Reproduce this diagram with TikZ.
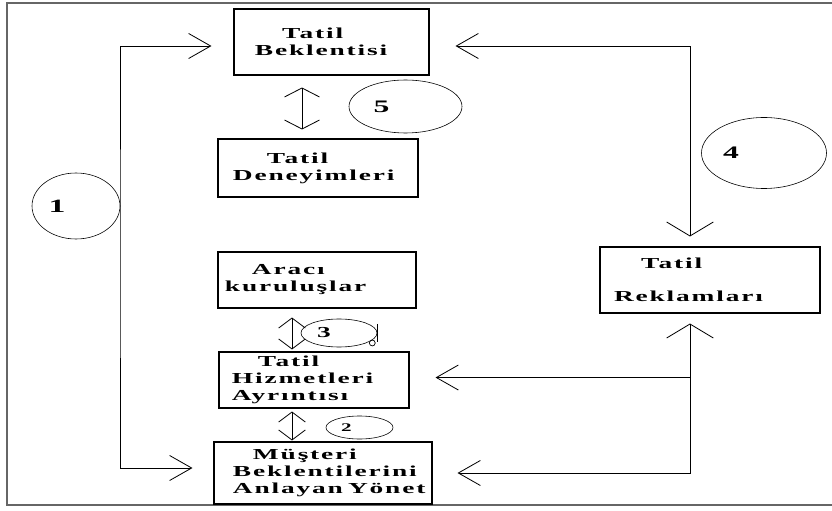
\documentclass[tikz,border=0pt]{standalone}
\usepackage{fontspec}
\newfontfamily\kutufont[FakeStretch=1.8,LetterSpace=12]{Liberation Serif}
\usetikzlibrary{arrows.meta,calc,shapes.geometric}
\tikzset{
  uzun/.tip={Straight Barb[length=0.66cm,width=0.75cm]},
  yassi/.tip={Straight Barb[length=0.42cm,width=1.4cm]},
  dik/.tip={Straight Barb[length=0.27cm,width=1.05cm]},
  kucuk/.tip={Straight Barb[length=0.3cm,width=0.8cm]},
  kutu/.style n args={3}{draw,line width=0.9pt,minimum height=#1,text width=#2,inner xsep=#3,
    inner ysep=0pt,align=left,font=\kutufont\bfseries\fontsize{13}{14.5}\selectfont},
  daire/.style={draw,ellipse,line width=0.5pt,inner sep=0pt,
    font=\kutufont\bfseries\fontsize{15}{15}\selectfont},
  hat/.style={line width=0.7pt},
}
\begin{document}
\begin{tikzpicture}[x=0.03cm,y=-0.03cm]
    \useasboundingbox (0,0) rectangle (832,511);
    \draw[black!60,line width=1pt] (832,3) -- (7,3) -- (7,505) -- (832,505);

    \node[kutu={1.98cm}{4.59cm}{0.63cm}] (bek) at (331.5,42)  {\hspace*{0.81cm}Tatil\\Beklentisi};
    \node[kutu={1.74cm}{5.1cm}{0.45cm}]  (den) at (318,168)   {\hspace*{1.02cm}Tatil\\Deneyimleri};
    \node[kutu={1.68cm}{5.52cm}{0.21cm}] (ara) at (317,280)   {\hspace*{0.81cm}Aracı\\kuruluşlar};
    \node[kutu={1.68cm}{4.92cm}{0.39cm}] (hiz) at (314,380)   {\hspace*{0.78cm}Tatil\\Hizmetleri\\Ayrıntısı};
    \node[kutu={1.86cm}{5.4cm}{0.57cm}]  (mus) at (323,473)   {\hspace*{0.6cm}Müşteri\\Beklentilerini\\Anlayan~Yönet};
    \node[kutu={1.98cm}{5.76cm}{0.42cm}] (rek) at (710,280)   {\hspace*{0.81cm}Tatil\\[14pt]Reklamları};

    \node[daire,minimum width=2.64cm,minimum height=1.98cm,font=\kutufont\bfseries\fontsize{16}{16}\selectfont] (c1) at (76,206) {1\kern1.14cm};
    \node[daire,minimum width=2.01cm,minimum height=0.69cm,font=\kutufont\bfseries\fontsize{10}{10}\selectfont] (c2) at (359.5,427.5) {2\kern0.78cm};
    \node[daire,minimum width=2.28cm,minimum height=0.84cm,font=\kutufont\bfseries\fontsize{13}{13}\selectfont] (c3) at (339,333) {3\kern0.9cm};
    \node[daire,minimum width=3.75cm,minimum height=2.13cm] (c4) at (764,153) {4\kern1.98cm};
    \node[daire,minimum width=3.39cm,minimum height=1.59cm] (c5) at (405.5,106.5) {5\kern1.44cm};
    \draw[line width=1.2pt] ($(c3.east)+(0,-9)$) -- ($(c3.east)+(0,9)$);
    \draw[line width=0.6pt] ($(c3.east)+(-5,10)$) circle[radius=2.5pt];

    \coordinate (sol) at (120,250);
    \coordinate (kol) at ($(rek.south)+(-20,64)$);
    \coordinate (hizuc) at ($(hiz.east)+(26,0)$);
    \draw[hat,uzun-uzun] ($(bek.west)+(-22,4)$) -| (sol) |- ($(mus.west)+(-21,-5)$);
    \draw[hat,uzun-yassi] ($(bek.east)+(26,4)$) -| ($(rek.north)+(-20,-10)$);
    \draw[hat,yassi-uzun] ($(rek.south)+(-20,10)$) |- ($(mus.east)+(25,0)$);
    \draw[hat,-uzun] (kol) -- (kol -| hizuc);
    \draw[hat,dik-dik] ($(bek.south)+(-29.5,12)$) -- ($(den.north)+(-16,-9)$);
    \draw[hat,kucuk-kucuk] ($(ara.south)+(-25,9)$) -- ($(hiz.north)+(-22,-2)$);
    \draw[hat,kucuk-kucuk] ($(hiz.south)+(-22,3)$) -- ($(mus.north)+(-31,-1)$);
\end{tikzpicture}
\end{document}
